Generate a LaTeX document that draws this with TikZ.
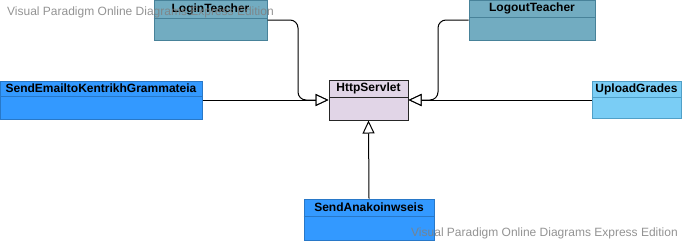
\documentclass[tikz,border=0pt]{standalone}
\usepackage{fontspec}
\setmainfont{Liberation Sans}
\usetikzlibrary{arrows.meta}

\definecolor{tealfill}{RGB}{114,172,193}
\definecolor{tealdraw}{RGB}{72,130,153}
\definecolor{bluefill}{RGB}{51,153,255}
\definecolor{bluedraw}{RGB}{40,120,200}
\definecolor{skyfill}{RGB}{122,205,245}
\definecolor{skydraw}{RGB}{80,160,200}
\definecolor{lilacfill}{RGB}{225,213,231}

\tikzset{
  classbox/.style={rectangle, line width=1pt, inner sep=0pt},
  classname/.style={font=\fontsize{12}{14}\selectfont\bfseries, inner sep=0pt},
  gen/.style={draw=black, line width=1pt, rounded corners=8pt,
    -{Triangle[open, fill=white, length=13pt, width=12pt]}},
  watermark/.style={font=\fontsize{12}{14}\selectfont, text=gray, opacity=0.85, inner sep=0pt}
}

\begin{document}
\begin{tikzpicture}[x=1pt, y=-1pt]
\useasboundingbox (0,0) rectangle (683,242);

% classes: box, divider under the header, name
\node (servlet) [classbox, draw=black!85, fill=lilacfill, minimum width=79pt, minimum height=40pt] at (368.5,100) {};
\draw[black!85, line width=1pt] ([yshift=-18pt]servlet.north west) -- ([yshift=-18pt]servlet.north east);
\node [classname] at ([yshift=-9pt]servlet.north) {HttpServlet};

\node (login) [classbox, draw=tealdraw, fill=tealfill, minimum width=113pt, minimum height=40pt] at (210.5,20) {};
\draw[tealdraw, line width=1pt] ([yshift=-19pt]login.north west) -- ([yshift=-19pt]login.north east);
\node [classname] at ([yshift=-9.5pt]login.north) {LoginTeacher};

\node (logout) [classbox, draw=tealdraw, fill=tealfill, minimum width=126pt, minimum height=40pt] at (532,20) {};
\draw[tealdraw, line width=1pt] ([yshift=-18pt]logout.north west) -- ([yshift=-18pt]logout.north east);
\node [classname] at ([yshift=-9pt]logout.north) {LogoutTeacher};

\node (email) [classbox, draw=bluedraw, fill=bluefill, minimum width=202pt, minimum height=38pt] at (101,100) {};
\draw[bluedraw, line width=1pt] ([yshift=-16pt]email.north west) -- ([yshift=-16pt]email.north east);
\node [classname] at ([yshift=-8pt]email.north) {SendEmailtoKentrikhGrammateia};

\node (upload) [classbox, draw=skydraw, fill=skyfill, minimum width=89pt, minimum height=37pt] at (636.5,100) {};
\draw[skydraw, line width=1pt] ([yshift=-16pt]upload.north west) -- ([yshift=-16pt]upload.north east);
\node [classname] at ([yshift=-8pt]upload.north) {UploadGrades};

\node (anak) [classbox, draw=bluedraw, fill=bluefill, minimum width=130pt, minimum height=41pt] at (369,219.5) {};
\draw[bluedraw, line width=1pt] ([yshift=-18pt]anak.north west) -- ([yshift=-18pt]anak.north east);
\node [classname] at ([yshift=-9pt]anak.north) {SendAnakoinwseis};

% generalisations
\coordinate (lbend) at (298,100);
\coordinate (rbend) at (438,100);
\draw[gen] (login.east) -| (lbend) -- (servlet.west);
\draw[gen] (logout.west) -| (rbend) -- (servlet.east);
\draw[gen] (email.east) -- (servlet.west);
\draw[gen] (upload.west) -- (servlet.east);
\draw[gen] (anak.north) -- (servlet.south);

% edition text
\node (wmtop) [watermark, anchor=west] at (7,12) {Visual Paradigm Online Diagrams Express Edition};
\node (wmbot) [watermark, anchor=west] at (411,233) {Visual Paradigm Online Diagrams Express Edition};
\end{tikzpicture}
\end{document}
